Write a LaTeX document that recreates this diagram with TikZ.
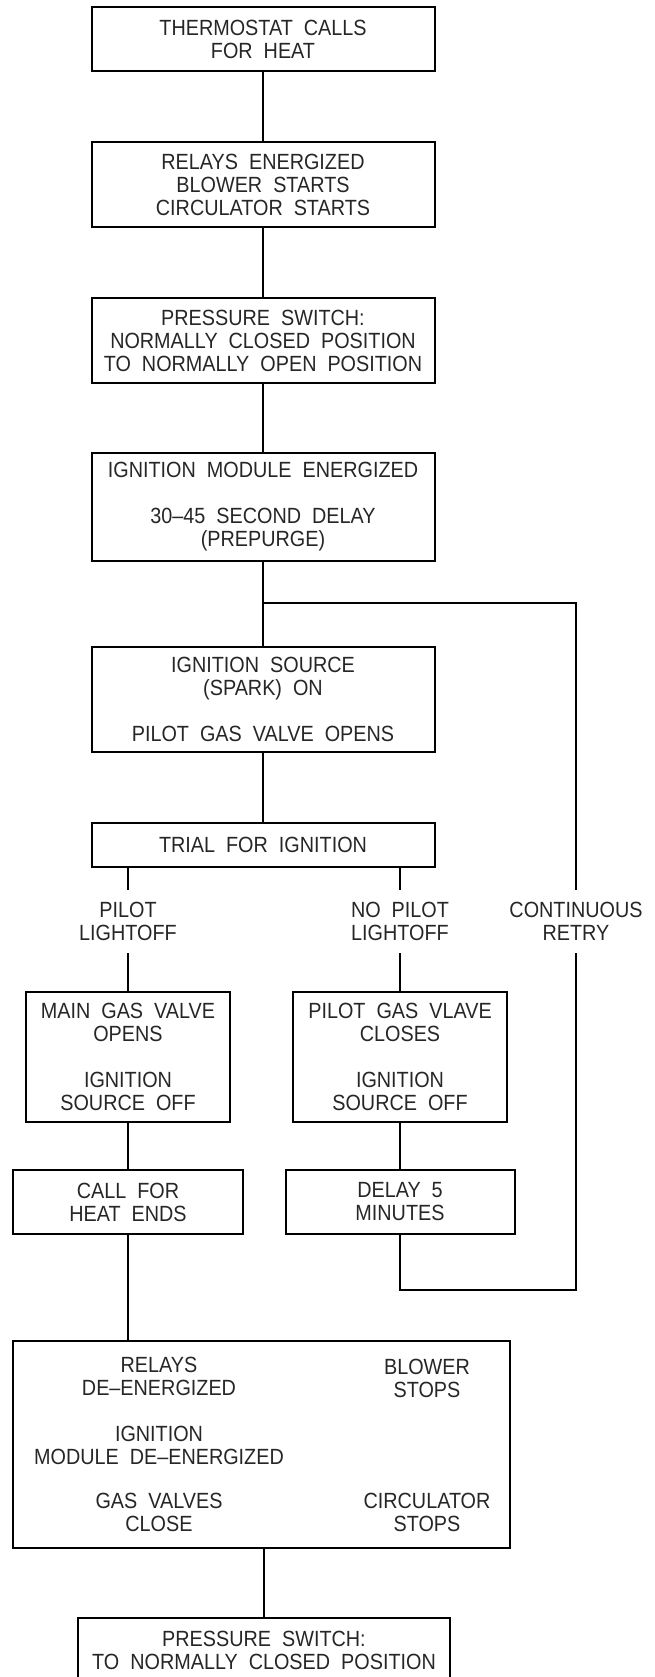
\documentclass[tikz,border=0pt]{standalone}
\usepackage{fontspec}
\setmainfont{Liberation Sans}[FakeStretch=0.9, WordSpace=2]

\begin{document}
\begin{tikzpicture}[x=1pt, y=-1pt, line width=2pt,
    font=\fontsize{22}{23}\selectfont,
    stepbox/.style={draw, rectangle, align=center, inner sep=0pt, text=black!85},
    branchnote/.style={align=center, inner sep=0pt, text=black!85, minimum height=61pt},
    item/.style={align=center, inner sep=0pt, text=black!85}]
    \useasboundingbox (0,0) rectangle (655,1677);

    % main column
    \node[stepbox, minimum width=343pt, minimum height=64pt] (therm) at (263,39) {THERMOSTAT CALLS\\FOR HEAT};
    \node[stepbox, minimum width=343pt, minimum height=85pt] (relays) at (263,184.5) {RELAYS ENERGIZED\\BLOWER STARTS\\CIRCULATOR STARTS};
    \node[stepbox, minimum width=343pt, minimum height=85pt] (pswon) at (263,340.5) {PRESSURE SWITCH:\\NORMALLY CLOSED POSITION\\TO NORMALLY OPEN POSITION};
    \node[stepbox, minimum width=343pt, minimum height=108pt] (ignmod) at (263,507) {IGNITION MODULE ENERGIZED\\[23pt]30--45 SECOND DELAY\\(PREPURGE)};
    \node[stepbox, minimum width=343pt, minimum height=105pt] (spark) at (263,699.5) {IGNITION SOURCE\\(SPARK) ON\\[23pt]PILOT GAS VALVE OPENS};
    \node[stepbox, minimum width=343pt, minimum height=44pt] (trial) at (263,845) {TRIAL FOR IGNITION};

    % outcomes of the trial
    \node[branchnote] (lit) at (128,921.5) {PILOT\\LIGHTOFF};
    \node[branchnote] (nolit) at (400,921.5) {NO PILOT\\LIGHTOFF};
    \node[branchnote] (retry) at (576,921.5) {CONTINUOUS\\RETRY};

    % pilot lit
    \node[stepbox, minimum width=204pt, minimum height=130pt] (mainopen) at (128,1057) {MAIN GAS VALVE\\OPENS\\[23pt]IGNITION\\SOURCE OFF};
    \node[stepbox, minimum width=230pt, minimum height=64pt] (callend) at (128,1202) {CALL FOR\\HEAT ENDS};

    % no pilot
    \node[stepbox, minimum width=214pt, minimum height=130pt] (pilotclose) at (400,1057) {PILOT GAS VLAVE\\CLOSES\\[23pt]IGNITION\\SOURCE OFF};
    \node[stepbox, minimum width=229pt, minimum height=64pt] (delay) at (400,1202) {DELAY 5\\MINUTES};

    % shut down
    \node[stepbox, minimum width=497pt, minimum height=207pt] (shutdown) at (261.5,1444.5) {};
    \node[item] (relaysoff) at (159,1376.5) {RELAYS\\DE--ENERGIZED};
    \node[item] (modoff) at (159,1445.5) {IGNITION\\MODULE DE--ENERGIZED};
    \node[item] (valvesoff) at (159,1512) {GAS VALVES\\CLOSE};
    \node[item] (bloweroff) at (427,1378.5) {BLOWER\\STOPS};
    \node[item] (circoff) at (427,1512) {CIRCULATOR\\STOPS};
    \node[stepbox, minimum width=372pt, minimum height=64pt] (pswoff) at (264,1650) {PRESSURE SWITCH:\\TO NORMALLY CLOSED POSITION};

    % connectors
    \draw (therm.south) -- (relays.north);
    \draw (relays.south) -- (pswon.north);
    \draw (pswon.south) -- (ignmod.north);
    \draw (ignmod.south) -- (spark.north);
    \draw (spark.south) -- (trial.north);
    \draw (trial.south -| lit.north) -- (lit.north);
    \draw (trial.south -| nolit.north) -- (nolit.north);
    \draw (lit.south) -- (mainopen.north);
    \draw (nolit.south) -- (pilotclose.north);
    \draw (mainopen.south) -- (callend.north);
    \draw (pilotclose.south) -- (delay.north);
    \draw (callend.south) -- (callend.south |- shutdown.north);
    \draw (pswoff.north |- shutdown.south) -- (pswoff.north);

    % retry loop
    \coordinate (fork) at (263,603);
    \coordinate (back) at (576,1290);
    \draw (fork) -| (retry.north);
    \draw (retry.south) -- (back) -| (delay.south);
\end{tikzpicture}
\end{document}
